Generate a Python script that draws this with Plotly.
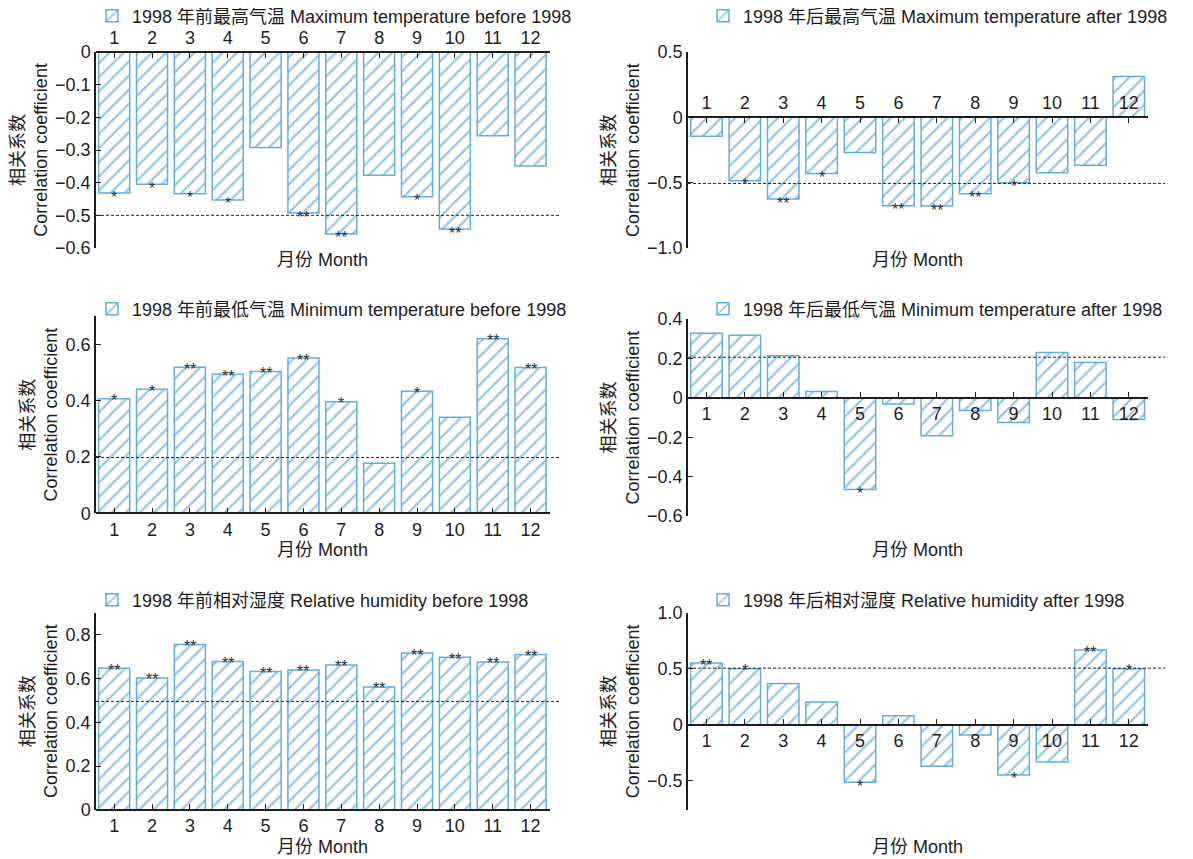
import plotly.graph_objects as go

months = list(range(1, 13))
month_labels = [str(m) for m in months]

tmax_before = [-0.432, -0.405, -0.434, -0.453, -0.292, -0.493, -0.557, -0.377, -0.443, -0.542, -0.256, -0.349]
tmax_before_sig = ["*", "*", "*", "*", "", "**", "**", "", "*", "**", "", ""]
tmax_after = [-0.145, -0.486, -0.625, -0.430, -0.270, -0.676, -0.679, -0.585, -0.500, -0.425, -0.366, 0.313]
tmax_after_sig = ["", "*", "**", "*", "", "**", "**", "**", "*", "", "", ""]
tmin_before = [0.406, 0.440, 0.518, 0.493, 0.503, 0.551, 0.396, 0.178, 0.433, 0.341, 0.619, 0.517]
tmin_before_sig = ["*", "*", "**", "**", "**", "**", "*", "", "*", "", "**", "**"]
tmin_after = [0.328, 0.318, 0.213, 0.032, -0.465, -0.032, -0.193, -0.064, -0.125, 0.230, 0.179, -0.110]
tmin_after_sig = ["", "", "", "", "*", "", "", "", "", "", "", ""]
rh_before = [0.646, 0.602, 0.754, 0.677, 0.631, 0.638, 0.661, 0.561, 0.715, 0.696, 0.675, 0.709]
rh_before_sig = ["**"] * 12
rh_after = [0.549, 0.499, 0.368, 0.202, -0.513, 0.080, -0.371, -0.092, -0.448, -0.332, 0.665, 0.499]
rh_after_sig = ["**", "*", "", "", "*", "", "", "", "*", "", "**", "*"]

names = [
    "1998 年前最高气温 Maximum temperature before 1998",
    "1998 年后最高气温 Maximum temperature after 1998",
    "1998 年前最低气温 Minimum temperature before 1998",
    "1998 年后最低气温 Minimum temperature after 1998",
    "1998 年前相对湿度 Relative humidity before 1998",
    "1998 年后相对湿度 Relative humidity after 1998",
]
values = [tmax_before, tmax_after, tmin_before, tmin_after, rh_before, rh_after]
sigs = [tmax_before_sig, tmax_after_sig, tmin_before_sig, tmin_after_sig, rh_before_sig, rh_after_sig]
thresholds = [-0.50, -0.506, 0.198, 0.206, 0.495, 0.504]

y_ranges = [[-0.6, 0], [-1.0, 0.5], [0, 0.7], [-0.6, 0.4], [0, 0.9], [-0.76, 1.0]]
y_tickvals = [
    [0, -0.1, -0.2, -0.3, -0.4, -0.5, -0.6],
    [0.5, 0, -0.5, -1.0],
    [0, 0.2, 0.4, 0.6],
    [0.4, 0.2, 0, -0.2, -0.4, -0.6],
    [0, 0.2, 0.4, 0.6, 0.8],
    [1.0, 0.5, 0, -0.5],
]
y_ticktext = [
    ["0", "−0.1", "−0.2", "−0.3", "−0.4", "−0.5", "−0.6"],
    ["0.5", "0", "−0.5", "−1.0"],
    ["0", "0.2", "0.4", "0.6"],
    ["0.4", "0.2", "0", "−0.2", "−0.4", "−0.6"],
    ["0", "0.2", "0.4", "0.6", "0.8"],
    ["1.0", "0.5", "0", "−0.5"],
]

# page body has an 8px default margin: figure is placed at (8, 8)
OFF = 8
W, H = 1193 - OFF, 859 - OFF


def fx(px):
    return (px - OFF) / W


def fy(py):
    return 1 - (py - OFF) / H


FONT = "Liberation Sans, Arial, Noto Sans CJK SC, sans-serif"
TXT = "#1f1c1d"
BLUE = "#2b8bcc"
EDGE = "#5eaee0"

xdom_l = [fx(96), fx(549.5)]
xdom_r = [fx(688), fx(1148)]
ydoms = [
    [fy(248), fy(52)],
    [fy(248), fy(52)],
    [fy(513.3), fy(316)],
    [fy(516), fy(319)],
    [fy(810), fy(612.5)],
    [fy(810), fy(612.5)],
]
xdoms = [xdom_l, xdom_r] * 3
legend_pos = [
    (fx(92), fy(16)), (fx(703), fy(16)),
    (fx(92), fy(309)), (fx(703), fy(309)),
    (fx(92), fy(600)), (fx(703), fy(600)),
]
month_title_y = [fy(260), fy(260), fy(550), fy(550), fy(847), fy(847)]
dash_end = [fx(561), fx(1165)] * 3

fig = go.Figure()
layout = dict(
    width=W, height=H, autosize=False,
    margin=dict(l=0, r=0, t=0, b=0, autoexpand=False),
    paper_bgcolor="white", plot_bgcolor="white",
    font=dict(family=FONT, size=18, color=TXT),
    bargap=0.18, showlegend=True,
)
shapes = []
annotations = []

for i in range(6):
    k = i + 1
    xn = "x" if k == 1 else f"x{k}"
    yn = "y" if k == 1 else f"y{k}"
    leg = "legend" if k == 1 else f"legend{k}"
    fig.add_trace(go.Bar(
        x=months, y=values[i], name=names[i], xaxis=xn, yaxis=yn, legend=leg,
        marker=dict(color="white", line=dict(color=EDGE, width=1.5),
                    pattern=dict(shape="/", fgcolor=BLUE, bgcolor="white", size=10, solidity=0.22)),
        showlegend=True,
    ))
    for m, v, s in zip(months, values[i], sigs[i]):
        if s:
            annotations.append(dict(
                x=m, y=v, xref=xn, yref=yn, text=s, showarrow=False,
                xanchor="center", yanchor="middle", yshift=(-4 if v < 0 else -2),
                font=dict(size=16, color="#333333"),
            ))
    y0, y1 = y_ranges[i]
    d0, d1 = ydoms[i]
    zero_pos = d0 + (0 - y0) / (y1 - y0) * (d1 - d0)
    side = "top" if i in (0, 1) else "bottom"
    layout[f"xaxis{'' if k == 1 else k}"] = dict(
        domain=xdoms[i], range=[0.52, 12.5], anchor="free", position=zero_pos, side=side,
        tickvals=months, ticktext=month_labels, ticks="inside", ticklen=5, tickwidth=1.2,
        tickcolor=TXT, showline=True, linecolor=TXT, linewidth=1.5, showgrid=False,
        zeroline=False, tickfont=dict(size=18, color=TXT), automargin=False,
    )
    layout[f"yaxis{'' if k == 1 else k}"] = dict(
        domain=ydoms[i], range=y_ranges[i], anchor=xn,
        tickvals=y_tickvals[i], ticktext=y_ticktext[i], ticks="inside", ticklen=5, tickwidth=1.2,
        tickcolor=TXT, showline=True, linecolor=TXT, linewidth=1.5, showgrid=False, zeroline=False,
        tickfont=dict(size=18, color=TXT), automargin=False,
        title=dict(text="相关系数<br>Correlation coefficient", font=dict(size=18, color=TXT), standoff=3),
    )
    lx, ly = legend_pos[i]
    layout[leg] = dict(x=lx, y=ly, xanchor="left", yanchor="middle", bgcolor="rgba(0,0,0,0)",
                       font=dict(size=18, color=TXT), borderwidth=0)
    shapes.append(dict(type="line", xref="paper", yref=yn, x0=xdoms[i][0], x1=dash_end[i],
                       y0=thresholds[i], y1=thresholds[i], layer="above",
                       line=dict(color="#222222", width=1, dash="3px,2px")))
    annotations.append(dict(text="月份 Month", xref="paper", yref="paper",
                            x=(xdoms[i][0] + xdoms[i][1]) / 2, y=month_title_y[i],
                            xanchor="center", yanchor="middle", showarrow=False,
                            font=dict(size=18, color=TXT)))

layout["shapes"] = shapes
layout["annotations"] = annotations
fig.update_layout(**layout)
fig.write_html("out.html")
